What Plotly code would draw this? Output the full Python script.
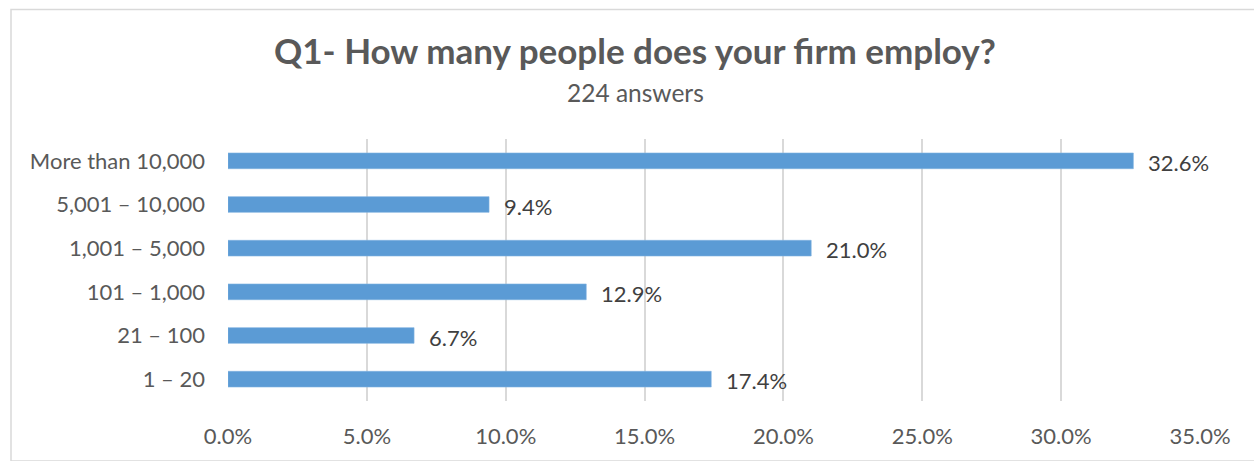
import plotly.graph_objects as go

categories = ["1 – 20", "21 – 100", "101 – 1,000", "1,001 – 5,000", "5,001 – 10,000", "More than 10,000"]
values = [17.4, 6.7, 12.9, 21.0, 9.4, 32.6]
x_ticks = [0, 5, 10, 15, 20, 25, 30, 35]
x_tick_labels = ["0.0%", "5.0%", "10.0%", "15.0%", "20.0%", "25.0%", "30.0%", "35.0%"]
title_text = "Q1- How many people does your firm employ?"
subtitle_text = "224 answers"

W, H = 1254, 461
ML, MR, MT, MB = 228, 54, 139, 56
PW, PH = W - ML - MR, H - MT - MB
FONT = "Lato"
GREY = "#595959"
BAR = "#5B9BD5"

fig = go.Figure()
fig.add_trace(go.Bar(
    y=categories, x=values, orientation="h",
    marker=dict(color=BAR, line=dict(color="#7fb2e0", width=0.6)),
    width=0.36, hoverinfo="skip",
))

for c, v in zip(categories, values):
    fig.add_annotation(x=v, y=c, xref="x", yref="y", text=f"{v:.1f}%",
                       showarrow=False, xanchor="left", yanchor="middle",
                       xshift=13, yshift=-1.5,
                       font=dict(family=FONT, size=22, color="#404040"))

fig.add_annotation(x=(635 - ML) / PW, y=(H - MB - 49) / PH, xref="paper", yref="paper",
                   text=f"<b>{title_text}</b>", showarrow=False,
                   xanchor="center", yanchor="middle",
                   font=dict(family=FONT, size=35, color=GREY))
fig.add_annotation(x=(635 - ML) / PW, y=(H - MB - 92) / PH, xref="paper", yref="paper",
                   text=subtitle_text, showarrow=False,
                   xanchor="center", yanchor="middle",
                   font=dict(family=FONT, size=24.5, color=GREY))

# outer chart border (top and left visible)
fig.add_shape(type="rect", xref="paper", yref="paper",
              x0=(11 - ML) / PW, x1=(W + 5 - ML) / PW,
              y0=(H - MB - (H + 5)) / PH, y1=(H - MB - 7.5) / PH,
              line=dict(color="#d9d9d9", width=1.5), layer="below")

fig.update_layout(
    width=W, height=H,
    margin=dict(l=ML, r=MR, t=MT, b=MB),
    paper_bgcolor="white", plot_bgcolor="white",
    showlegend=False, bargap=0.64,
    font=dict(family=FONT, color=GREY),
)
fig.update_xaxes(range=[0, 35], tickvals=x_ticks, ticktext=x_tick_labels,
                 showgrid=True, gridcolor="#d9d9d9", gridwidth=1.5,
                 zeroline=False, showline=False, ticks="",
                 tickfont=dict(family=FONT, size=22, color=GREY),
                 ticklabelstandoff=20)
fig.update_yaxes(categoryorder="array", categoryarray=categories,
                 showgrid=False, zeroline=False, showline=False, ticks="",
                 tickfont=dict(family=FONT, size=22, color=GREY),
                 ticklabelstandoff=22)

fig.write_html("out.html")
